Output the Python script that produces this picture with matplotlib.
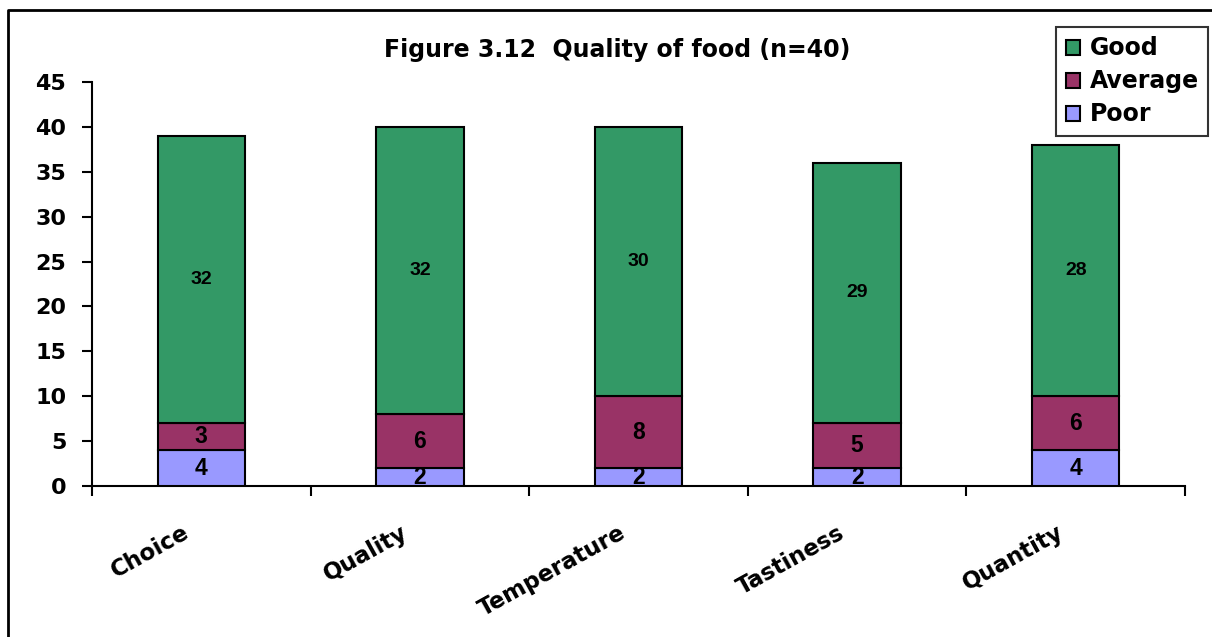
import numpy as np
import matplotlib.pyplot as plt
from matplotlib.lines import Line2D

plt.rcParams['font.family'] = ['DejaVu Sans']
plt.rcParams['font.weight'] = 'bold'

categories = ['Choice', 'Quality', 'Temperature', 'Tastiness', 'Quantity']
poor = [4, 2, 2, 2, 4]
average = [3, 6, 8, 5, 6]
good = [32, 32, 30, 29, 28]

# name, values, colour, size of the value labels
series = [('Poor', poor, '#9999FF', 16.5),
          ('Average', average, '#993366', 16.5),
          ('Good', good, '#339966', 14)]

fig = plt.figure(figsize=(12.12, 6.37), dpi=100)
ax = fig.add_axes([92/1212, 1 - 486/637, (1185 - 92)/1212, (486 - 82)/637])

x = np.arange(len(categories))
bottom = np.zeros(len(categories))
handles = {}
for name, vals, col, fs in series:
    vals = np.array(vals, dtype=float)
    bars = ax.bar(x, vals, width=0.4, bottom=bottom, color=col,
                  edgecolor='black', linewidth=1.5, label=name, zorder=3)
    handles[name] = bars
    for xi, b, v in zip(x, bottom, vals):
        ax.text(xi, b + v / 2, '%d' % v, ha='center', va='center',
                fontsize=fs, fontweight='bold', family='Liberation Sans',
                zorder=4)
    bottom += vals

ax.set_xlim(-0.5, len(categories) - 0.5)
ax.set_ylim(0, 45)
ax.set_yticks(np.arange(0, 46, 5))
ax.tick_params(axis='y', labelsize=16, length=7.5, width=1.5, direction='out', pad=11)

# ticks sit between categories, labels centred under each bar
ax.set_xticks(np.arange(-0.5, len(categories), 1.0))
ax.set_xticklabels([])
ax.tick_params(axis='x', length=7, width=1.5, direction='out')
for xi, lab in zip(x, categories):
    ax.text(xi - 0.09, -3.9, lab, rotation=29, ha='right', va='top',
            rotation_mode='anchor', fontsize=16.5, fontweight='bold',
            clip_on=False)

for s in ['top', 'right']:
    ax.spines[s].set_visible(False)
for s in ['left', 'bottom']:
    ax.spines[s].set_linewidth(1.5)

fig.text(617/1212, 1 - 50/637, 'Figure 3.12  Quality of food (n=40)',
         ha='center', va='center', fontsize=17, fontweight='bold')

leg = fig.legend([handles['Good'], handles['Average'], handles['Poor']],
                 ['Good', 'Average', 'Poor'],
                 loc='upper right', bbox_to_anchor=(1208/1212, 1 - 27/637),
                 prop={'size': 17, 'weight': 'bold'}, frameon=True,
                 fancybox=False, handlelength=0.6, handleheight=0.6,
                 handletextpad=0.4, borderpad=0.4, labelspacing=0.38,
                 borderaxespad=0)
leg.get_frame().set_edgecolor('black')
leg.get_frame().set_linewidth(1.5)

# outer chart border (top and left edges)
fig.add_artist(Line2D([8/1212, 8/1212, 1], [0, 1 - 10/637, 1 - 10/637],
                      color='black', linewidth=2, transform=fig.transFigure))

fig.savefig('out.png', dpi=100)
